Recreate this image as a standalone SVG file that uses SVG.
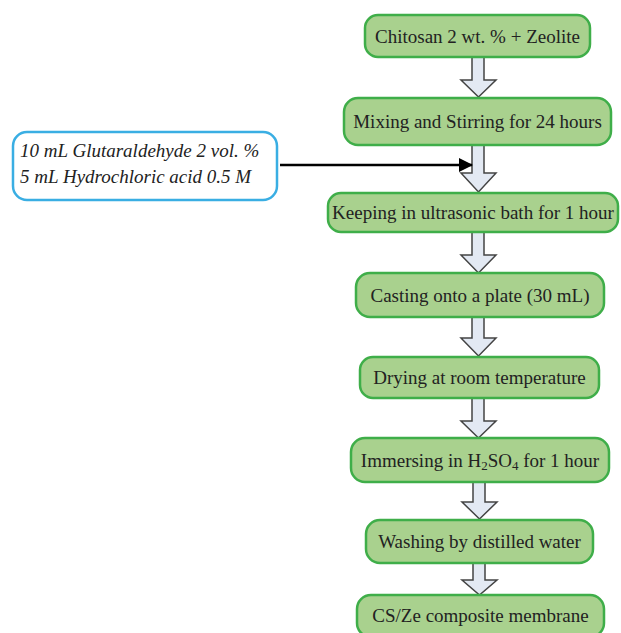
<svg xmlns="http://www.w3.org/2000/svg" width="621" height="633" viewBox="0 0 621 633">
<defs>
<style>
.node{fill:#A9D18E;stroke:#3FAE49;stroke-width:2.5}
.lbl{font-family:"Liberation Serif","Times New Roman",serif;font-size:19px;fill:#222;text-anchor:middle}
.blk{fill:#E3E9F3;stroke:#444;stroke-width:1.5;stroke-linejoin:miter}
.note{fill:#fff;stroke:#3AAEE3;stroke-width:2.5}
.it{font-family:"Liberation Serif","Times New Roman",serif;font-size:19px;font-style:italic;fill:#222}
</style>
<marker id="ah" markerWidth="14" markerHeight="14" refX="13" refY="7" orient="auto" markerUnits="userSpaceOnUse">
<path d="M0,0 L14,7 L0,14 Z" fill="#000"/>
</marker>
</defs>
<rect width="621" height="633" fill="#fff"/>
<g id="connectors">
<path class="blk" d="M472,57 L484,57 L484,80 L496,80 L478.5,97 L461,80 L472,80 Z"/>
<path class="blk" d="M472,145 L484,145 L484,173 L496,173 L478.5,192 L461,173 L472,173 Z"/>
<path class="blk" d="M472,232 L484,232 L484,255 L496,255 L478.5,273 L461,255 L472,255 Z"/>
<path class="blk" d="M472,317 L484,317 L484,338 L496,338 L478.5,356 L461,338 L472,338 Z"/>
<path class="blk" d="M472,398 L484,398 L484,421 L496,421 L478.5,438 L461,421 L472,421 Z"/>
<path class="blk" d="M473,482 L485,482 L485,502 L497,502 L479.5,519 L462,502 L473,502 Z"/>
<path class="blk" d="M473,563 L485,563 L485,580 L497,580 L479.5,595 L462,580 L473,580 Z"/>
<line x1="280" y1="165" x2="472" y2="165" stroke="#000" stroke-width="2.5" marker-end="url(#ah)"/>
</g>
<g id="n1"><rect class="node" x="365" y="15" width="225" height="42" rx="13"/><text class="lbl" x="477.5" y="42.5">Chitosan 2 wt. % + Zeolite</text></g>
<g id="n2"><rect class="node" x="344" y="98" width="267" height="47" rx="14"/><text class="lbl" x="477.5" y="128">Mixing and Stirring for 24 hours</text></g>
<g id="n3"><rect class="node" x="328" y="193" width="290" height="39" rx="13"/><text class="lbl" x="473" y="219">Keeping in ultrasonic bath for 1 hour</text></g>
<g id="n4"><rect class="node" x="356" y="273" width="248" height="44" rx="14"/><text class="lbl" x="480" y="302">Casting onto a plate (30 mL)</text></g>
<g id="n5"><rect class="node" x="360" y="357" width="239" height="41" rx="13"/><text class="lbl" x="479.5" y="384">Drying at room temperature</text></g>
<g id="n6"><rect class="node" x="351" y="438" width="258" height="44" rx="14"/><text class="lbl" x="480" y="467">Immersing in H<tspan font-size="13" dy="3">2</tspan><tspan dy="-3">SO</tspan><tspan font-size="13" dy="3">4</tspan><tspan dy="-3"> for 1 hour</tspan></text></g>
<g id="n7"><rect class="node" x="366" y="520" width="227" height="43" rx="14"/><text class="lbl" x="479.5" y="548">Washing by distilled water</text></g>
<g id="n8"><rect class="node" x="357" y="595" width="247" height="42" rx="14"/><text class="lbl" x="480.5" y="622">CS/Ze composite membrane</text></g>
<g id="note"><rect class="note" x="13" y="132" width="264" height="68" rx="14"/>
<text class="it" x="20" y="157">10 mL Glutaraldehyde 2 vol. %</text>
<text class="it" x="20" y="183">5 mL Hydrochloric acid 0.5 M</text></g>
</svg>
